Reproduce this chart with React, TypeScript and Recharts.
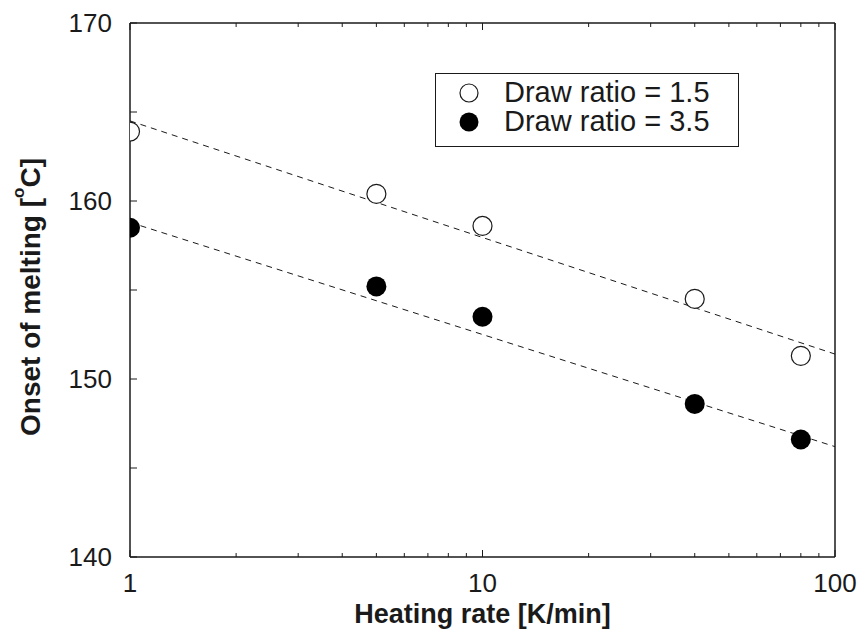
import React from "react";
import {
  ComposedChart, Scatter, Line, XAxis, YAxis, Legend, Label,
} from "recharts";

// heating rates [K/min]
const heatingRates = [1, 5, 10, 40, 80];
// onset of melting [°C]
const onsetDR15 = [163.9, 160.4, 158.6, 154.5, 151.3];
const onsetDR35 = [158.5, 155.2, 153.5, 148.6, 146.6];

// dashed fit lines, read at the ends of the axis
const fitRates = [1, 100];
const fitDR15 = [164.5, 151.4];
const fitDR35 = [158.8, 146.2];

const xMajorTicks = [1, 10, 100];
const xMinorTicks = [2, 3, 4, 5, 6, 7, 8, 9, 20, 30, 40, 50, 60, 70, 80, 90];
const xTicks = [...xMajorTicks, ...xMinorTicks];
const yTicks = [140, 145, 150, 155, 160, 165, 170];
const yLabelled = [140, 150, 160, 170];

const seriesNames = ["Draw ratio = 1.5", "Draw ratio = 3.5"];

const pts15 = heatingRates.map((x, i) => ({ x, y: onsetDR15[i] }));
const pts35 = heatingRates.map((x, i) => ({ x, y: onsetDR35[i] }));
const fit15 = fitRates.map((x, i) => ({ x, y: fitDR15[i] }));
const fit35 = fitRates.map((x, i) => ({ x, y: fitDR35[i] }));

const FONT = "'Liberation Sans', Arial, Helvetica, sans-serif";
const INK = "#1a1a1a";

function BottomTick({ x, y, payload }: any) {
  const major = xMajorTicks.includes(payload.value);
  return (
    <g>
      <line x1={x} x2={x} y1={y} y2={y - (major ? 7 : 4)} stroke={INK} strokeWidth={1} />
      {major && (
        <text x={x} y={y + 26} textAnchor="middle" dominantBaseline="central"
          fontFamily={FONT} fontSize={26} fill={INK}>{payload.value}</text>
      )}
    </g>
  );
}

function TopTick({ x, y, payload }: any) {
  const major = xMajorTicks.includes(payload.value);
  return <line x1={x} x2={x} y1={y} y2={y + (major ? 7 : 4)} stroke={INK} strokeWidth={1} />;
}

function LeftTick({ x, y, payload }: any) {
  return (
    <g>
      <line x1={x} x2={x + 7} y1={y} y2={y} stroke={INK} strokeWidth={1} />
      {yLabelled.includes(payload.value) && (
        <text x={x - 18} y={y} textAnchor="end" dominantBaseline="central"
          fontFamily={FONT} fontSize={26} fill={INK}>{payload.value}</text>
      )}
    </g>
  );
}

function RightTick({ x, y }: any) {
  return <line x1={x} x2={x - 7} y1={y} y2={y} stroke={INK} strokeWidth={1} />;
}

function OpenDot({ cx, cy }: any) {
  return <circle cx={cx} cy={cy} r={9.5} fill="#fff" stroke={INK} strokeWidth={1.2} />;
}

function FilledDot({ cx, cy }: any) {
  return <circle cx={cx} cy={cy} r={10} fill="#000" />;
}

function LegendBox() {
  return (
    <div style={{
      boxSizing: "border-box", width: 304, height: 74, border: `1.5px solid ${INK}`,
      background: "#fff", fontFamily: FONT, fontSize: 29, color: INK, padding: "4px 0 0 22px",
    }}>
      {seriesNames.map((name, i) => (
        <div key={name} style={{ display: "flex", alignItems: "center", height: 29 }}>
          <svg width={22} height={22} style={{ marginRight: 24, flex: "none" }}>
            {i === 0
              ? <circle cx={11} cy={11} r={9} fill="#fff" stroke={INK} strokeWidth={1.2} />
              : <circle cx={11} cy={11} r={9.5} fill="#000" />}
          </svg>
          <span style={{ whiteSpace: "nowrap" }}>{name}</span>
        </div>
      ))}
    </div>
  );
}

function YTitle({ viewBox }: any) {
  const cx = 30;
  const cy = viewBox.y + viewBox.height / 2 + 7;
  return (
    <text x={cx} y={cy} transform={`rotate(-90 ${cx} ${cy})`} textAnchor="middle"
      dominantBaseline="central" fontFamily={FONT} fontSize={28} fontWeight="bold" fill={INK}>
      Onset of melting [<tspan fontSize={17} dy={-12}>o</tspan><tspan dy={12}>C]</tspan>
    </text>
  );
}

function XTitle({ viewBox }: any) {
  return (
    <text x={viewBox.x + viewBox.width / 2} y={614} textAnchor="middle"
      dominantBaseline="central" fontFamily={FONT} fontSize={27} fontWeight="bold" fill={INK}>
      Heating rate [K/min]
    </text>
  );
}

export default function App() {
  const axisLine = { stroke: INK, strokeWidth: 1.5 };
  return (
    <div style={{ position: "absolute", left: 0, top: 0, background: "#fff" }}>
      <ComposedChart width={859} height={633} margin={{ top: 22, right: 23, bottom: 0, left: 40 }}>
        <XAxis xAxisId="b" type="number" dataKey="x" scale="log" domain={[1, 100]} allowDataOverflow
          ticks={xTicks} interval={0} tickSize={0} tickMargin={0} tickLine={false}
          tick={<BottomTick />} axisLine={axisLine} height={76}>
          <Label content={<XTitle />} />
        </XAxis>
        <XAxis xAxisId="t" orientation="top" type="number" dataKey="x" scale="log" domain={[1, 100]}
          allowDataOverflow ticks={xTicks} interval={0} tickSize={0} tickMargin={0} tickLine={false}
          tick={<TopTick />} axisLine={axisLine} height={1} />
        <YAxis yAxisId="l" type="number" domain={[140, 170]} ticks={yTicks} interval={0}
          tickSize={0} tickMargin={0} tickLine={false} tick={<LeftTick />} axisLine={axisLine} width={90}>
          <Label content={<YTitle />} />
        </YAxis>
        <YAxis yAxisId="r" orientation="right" type="number" domain={[140, 170]} ticks={yTicks}
          interval={0} tickSize={0} tickMargin={0} tickLine={false} tick={<RightTick />}
          axisLine={axisLine} width={1} />
        <Legend layout="vertical" align="center" verticalAlign="middle"
          wrapperStyle={{ top: 73, left: 435, width: 304, height: 74 }} content={<LegendBox />} />
        <Line xAxisId="b" yAxisId="l" data={fit15} dataKey="y" type="linear" dot={false}
          stroke={INK} strokeWidth={1} strokeDasharray="6 5" isAnimationActive={false} legendType="none" />
        <Line xAxisId="b" yAxisId="l" data={fit35} dataKey="y" type="linear" dot={false}
          stroke={INK} strokeWidth={1} strokeDasharray="6 5" isAnimationActive={false} legendType="none" />
        <Scatter xAxisId="b" yAxisId="l" name={seriesNames[0]} data={pts15} dataKey="y"
          shape={<OpenDot />} isAnimationActive={false} />
        <Scatter xAxisId="b" yAxisId="l" name={seriesNames[1]} data={pts35} dataKey="y"
          shape={<FilledDot />} isAnimationActive={false} />
      </ComposedChart>
    </div>
  );
}
